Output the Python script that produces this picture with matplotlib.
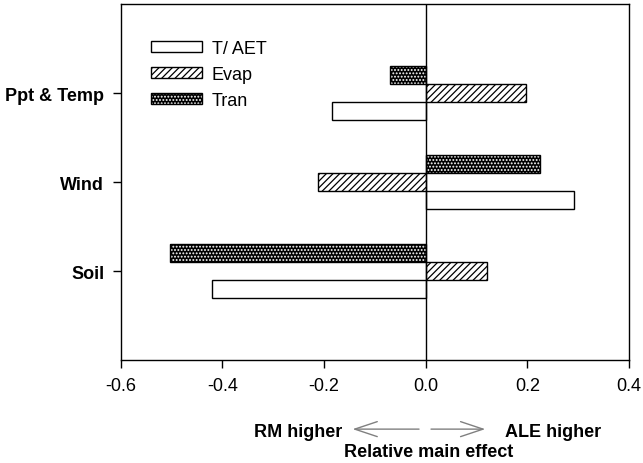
import matplotlib
matplotlib.use("Agg")
import matplotlib.pyplot as plt
from matplotlib.patches import Patch, FancyArrowPatch
import numpy as np

plt.rcParams['font.family'] = ['Liberation Sans', 'DejaVu Sans']
plt.rcParams['hatch.linewidth'] = 0.9

# data
factors = ['Soil', 'Wind', 'Ppt & Temp']
t_aet = [-0.42, 0.292, -0.184]
evap = [0.12, -0.212, 0.198]
tran = [-0.504, 0.225, -0.07]

y = np.arange(len(factors))
h = 0.2

fig = plt.figure(figsize=(6.43, 4.64), dpi=100)
ax = fig.add_axes([0.188, 0.222, 0.79, 0.767])

# T/AET (white)
ax.barh(y - h, t_aet, height=h, color='white', edgecolor='black', linewidth=1.0)
# Evap (diagonal hatch)
ax.barh(y, evap, height=h, color='white', edgecolor='black', hatch='/////', linewidth=1.0)
# Tran (black with white dots)
ax.barh(y + h, tran, height=h, color='black', edgecolor='white', hatch='.....', linewidth=0)
ax.barh(y + h, tran, height=h, fill=False, edgecolor='black', linewidth=1.0)

ax.axvline(0, color='black', linewidth=1.0)

ax.set_xlim(-0.6, 0.4)
ax.set_ylim(-1, 3)
ax.set_xticks([-0.6, -0.4, -0.2, 0.0, 0.2, 0.4])
ax.set_xticklabels(['-0.6', '-0.4', '-0.2', '0.0', '0.2', '0.4'], fontsize=13)
ax.set_yticks(y)
ax.set_yticklabels(factors, fontsize=13, fontweight='bold')
ax.tick_params(direction='out', length=6, width=1, pad=6)
for s in ax.spines.values():
    s.set_linewidth(1.0)

# legend
h_taet = Patch(facecolor='white', edgecolor='black', linewidth=1.0)
h_evap = Patch(facecolor='white', edgecolor='black', hatch='/////', linewidth=1.0)
h_tran = (Patch(facecolor='black', edgecolor='white', hatch='.....', linewidth=0),
          Patch(fill=False, edgecolor='black', linewidth=1.0))
ax.legend([h_taet, h_evap, h_tran], ['T/ AET', 'Evap', 'Tran'],
          loc='upper left', bbox_to_anchor=(0.06, 0.9), frameon=False,
          borderpad=0, borderaxespad=0, fontsize=13, handlelength=2.8,
          handleheight=0.55, handletextpad=0.55, labelspacing=0.5)

# bottom annotations
fig.text(0.532, 0.067, 'RM higher', ha='right', va='center', fontsize=13, fontweight='bold')
fig.text(0.785, 0.067, 'ALE higher', ha='left', va='center', fontsize=13, fontweight='bold')
fig.text(0.666, 0.024, 'Relative main effect', ha='center', va='center', fontsize=13, fontweight='bold')
fig.patches.append(FancyArrowPatch(
    (0.656, 0.073), (0.544, 0.073), transform=fig.transFigure,
    arrowstyle='->,head_length=0.9,head_width=0.3', mutation_scale=18,
    color='gray', linewidth=1.0))
fig.patches.append(FancyArrowPatch(
    (0.666, 0.073), (0.759, 0.073), transform=fig.transFigure,
    arrowstyle='->,head_length=0.9,head_width=0.3', mutation_scale=18,
    color='gray', linewidth=1.0))

fig.savefig('out.png', dpi=100)
